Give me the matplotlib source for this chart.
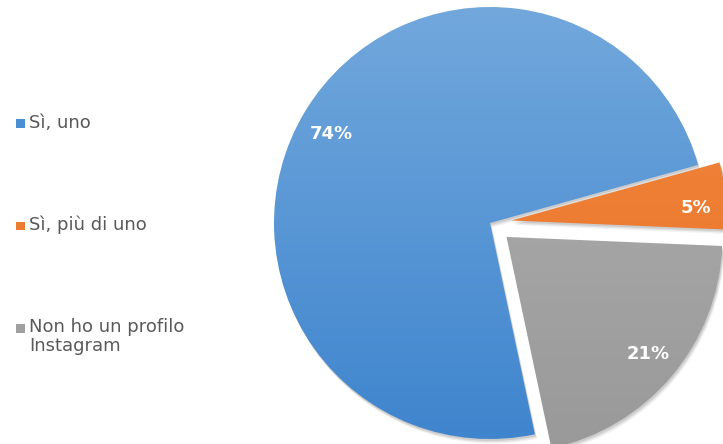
import matplotlib.pyplot as plt
import numpy as np
from matplotlib.patches import Wedge, Rectangle
from matplotlib.colors import LinearSegmentedColormap

labels = ['Sì, uno', 'Sì, più di uno', 'Non ho un profilo\nInstagram']
values = [74, 5, 21]
# top / bottom colours of the gradient for each slice
top_colors = ['#72A8DC', '#F28A45', '#B0B0B0']
bot_colors = ['#3F85CE', '#E8701F', '#999999']
explode = [0.0, 0.1, 0.1]

plt.rcParams['font.family'] = ['DejaVu Sans']

fig = plt.figure(figsize=(7.23, 4.44), dpi=100)
ax = fig.add_axes([0, 0, 1, 1])
ax.axis('off')

# pie wedges, drawn clockwise from -78 deg
start = -78.0
total = float(sum(values))
angles = []
a = start
for v in values:
    span = 360.0 * v / total
    angles.append((a - span, a))
    a -= span

lab_r = [0.86, 0.86, 0.86]
lab_dy = [-0.035, -0.04, 0.015]
for i, (t1, t2) in enumerate(angles):
    mid = np.deg2rad((t1 + t2) / 2)
    cx, cy = explode[i] * np.cos(mid), explode[i] * np.sin(mid)
    # soft shadow
    for k, al in zip([0.035, 0.025, 0.015], [0.05, 0.07, 0.09]):
        sh = Wedge((cx + k * 0.3, cy - k * 0.6), 1.0, t1, t2, facecolor='black',
                   edgecolor='none', alpha=al, zorder=1)
        ax.add_patch(sh)
    w = Wedge((cx, cy), 1.0, t1, t2, facecolor='none', edgecolor='none', zorder=2)
    ax.add_patch(w)
    cmap = LinearSegmentedColormap.from_list('g%d' % i, [bot_colors[i], top_colors[i]])
    grad = np.linspace(0, 1, 256).reshape(-1, 1)
    im = ax.imshow(grad, cmap=cmap, origin='lower', extent=(cx - 1, cx + 1, cy - 1, cy + 1),
                   aspect='auto', zorder=2)
    im.set_clip_path(w)
    r = lab_r[i]
    ax.text(cx + r * np.cos(mid), cy + r * np.sin(mid) + lab_dy[i], '%d%%' % values[i],
            color='white', fontsize=13, fontweight='bold', ha='center', va='center', zorder=3)

ax.set_xlim(-490 / 216, (723 - 490) / 216)
ax.set_ylim((223 - 444) / 216, 223 / 216)

# legend on the left
leg_y = [124, 226, 328]
leg_colors = ['#4A8FD4', '#ED7D31', '#A0A0A0']
for i, lab in enumerate(labels):
    y = 1 - leg_y[i] / 444
    fig.patches.append(Rectangle((16 / 723, y - 4.5 / 444), 9 / 723, 9 / 444,
                                 transform=fig.transFigure, facecolor=leg_colors[i],
                                 edgecolor='none'))
    fig.text(29 / 723, y + 10.5 / 444, lab, fontsize=13, color='#595959', ha='left', va='top',
             linespacing=1.12)

fig.savefig('out.png', dpi=100)
